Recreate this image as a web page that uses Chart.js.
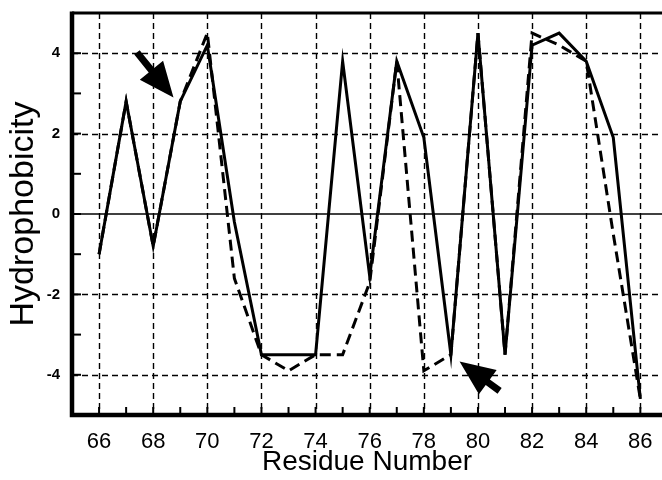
<!DOCTYPE html>
<html><head><meta charset="utf-8">
<script src="https://cdn.jsdelivr.net/npm/chart.js@4.4.1/dist/chart.umd.min.js"></script>
<style>html,body{margin:0;padding:0;background:#fff}#c{display:block}</style>
</head><body>
<canvas id="c" width="662" height="480"></canvas>
<script>
// ---- data ----
const residues      = [66,67,68,69,70,71,72,73,74,75,76,77,78,79,80,81,82,83,84,85,86];
const solidValues   = [-1.0,2.8,-0.8,2.8,4.2,-0.2,-3.5,-3.5,-3.5,3.8,-1.55,3.8,1.9,-3.5,4.5,-3.5,4.2,4.5,3.8,1.9,-4.6];
const dashedValues  = [-1.0,2.8,-0.8,2.8,4.5,-1.6,-3.5,-3.9,-3.5,-3.5,-1.7,3.8,-3.9,-3.5,4.5,-3.5,4.5,4.2,3.8,-0.5,-4.6];
const xTickValues   = [66,68,70,72,74,76,78,80,82,84,86];
const xMinorTicks   = [67,69,71,73,75,77,79,81,83,85];
const yTickValues   = [-4,-2,0,2,4];
const yMinorTicks   = [-3,-1,1,3];
const yGridValues   = [-4,-2,2,4];
const arrowTailX    = [67.4, 80.8];
const arrowTailY    = [4.02, -4.4];
const arrowTipX     = [68.75, 79.32];
const arrowTipY     = [2.9, -3.67];
const xTitle = 'Residue Number';
const yTitle = 'Hydrophobicity';

const FONT = "'Liberation Sans', Arial, Helvetica, sans-serif";

const decor = {
  id: 'decor',
  beforeDatasetsDraw(chart) {
    const {ctx, chartArea: a, scales: {x, y}} = chart;
    ctx.save();
    ctx.strokeStyle = '#000';
    ctx.lineWidth = 1.4;
    ctx.setLineDash([6, 4]);
    xTickValues.forEach(v => {
      const px = Math.round(x.getPixelForValue(v)) + 0.5;
      ctx.beginPath(); ctx.moveTo(px, a.top); ctx.lineTo(px, a.bottom); ctx.stroke();
    });
    yGridValues.forEach(v => {
      const py = Math.round(y.getPixelForValue(v)) + 0.5;
      ctx.beginPath(); ctx.moveTo(a.left, py); ctx.lineTo(a.right, py); ctx.stroke();
    });
    ctx.setLineDash([]);
    ctx.lineWidth = 1.5;
    const p0 = y.getPixelForValue(0);
    ctx.beginPath(); ctx.moveTo(a.left, p0); ctx.lineTo(a.right, p0); ctx.stroke();
    ctx.restore();
  },
  afterDatasetsDraw(chart) {
    const {ctx, chartArea: a, scales: {x, y}} = chart;
    ctx.save();
    ctx.strokeStyle = '#000';
    ctx.fillStyle = '#000';
    ctx.setLineDash([]);
    // inward ticks
    ctx.lineWidth = 2;
    xTickValues.concat(xMinorTicks).forEach(v => {
      const px = x.getPixelForValue(v);
      ctx.beginPath(); ctx.moveTo(px, a.bottom); ctx.lineTo(px, a.bottom - 8); ctx.stroke();
    });
    yTickValues.concat(yMinorTicks).forEach(v => {
      const py = y.getPixelForValue(v);
      ctx.beginPath(); ctx.moveTo(a.left, py); ctx.lineTo(a.left + 9, py); ctx.stroke();
    });
    // frame
    ctx.lineWidth = 3;
    ctx.beginPath(); ctx.moveTo(a.left, a.top); ctx.lineTo(a.right + 2, a.top); ctx.stroke();
    ctx.lineWidth = 4.5;
    ctx.beginPath();
    ctx.moveTo(a.left, a.top - 1.5);
    ctx.lineTo(a.left, a.bottom); ctx.lineTo(a.right + 2, a.bottom);
    ctx.stroke();
    // arrows
    for (let i = 0; i < arrowTipX.length; i++) {
      const tx = x.getPixelForValue(arrowTipX[i]), ty = y.getPixelForValue(arrowTipY[i]);
      const sx = x.getPixelForValue(arrowTailX[i]), sy = y.getPixelForValue(arrowTailY[i]);
      const len = Math.hypot(tx - sx, ty - sy);
      const ux = (tx - sx) / len, uy = (ty - sy) / len;
      const nx = -uy, ny = ux;
      const L = 35, W = 15, S = 3.5;
      const bx = tx - ux * L, by = ty - uy * L;
      ctx.beginPath();
      ctx.moveTo(sx + nx * S, sy + ny * S);
      ctx.lineTo(bx + nx * S, by + ny * S);
      ctx.lineTo(bx + nx * W, by + ny * W);
      ctx.lineTo(tx, ty);
      ctx.lineTo(bx - nx * W, by - ny * W);
      ctx.lineTo(bx - nx * S, by - ny * S);
      ctx.lineTo(sx - nx * S, sy - ny * S);
      ctx.closePath();
      ctx.fill();
    }
    ctx.restore();
  }
};

new Chart(document.getElementById('c'), {
  type: 'line',
  data: {
    datasets: [
      { label: 'solid', data: residues.map((r, i) => ({x: r, y: solidValues[i]})),
        borderColor: '#000', borderWidth: 3, pointRadius: 0, tension: 0, fill: false, order: 0 },
      { label: 'dashed', data: residues.map((r, i) => ({x: r, y: dashedValues[i]})),
        borderColor: '#000', borderWidth: 3, borderDash: [11, 6], pointRadius: 0, tension: 0, fill: false, order: 1 }
    ]
  },
  options: {
    responsive: false,
    animation: false,
    layout: { padding: { top: 13, right: 0, left: 0, bottom: 0 } },
    plugins: { legend: { display: false }, tooltip: { enabled: false } },
    scales: {
      x: {
        type: 'linear', min: 65, max: 86.8,
        afterBuildTicks: s => { s.ticks = xTickValues.map(v => ({value: v})); },
        afterFit: s => { s.height = 65; s.paddingLeft = 0; s.paddingRight = 0; },
        grid: { display: false, drawTicks: false },
        border: { display: false },
        ticks: { color: '#000', font: { family: FONT, size: 22 }, padding: 14, maxRotation: 0,
                 callback: v => String(v) },
        title: { display: true, text: xTitle, color: '#000', font: { family: FONT, size: 28 },
                 padding: { top: 0, bottom: 1 } }
      },
      y: {
        type: 'linear', min: -5, max: 5,
        afterBuildTicks: s => { s.ticks = yTickValues.map(v => ({value: v})); },
        afterFit: s => { s.width = 72; s.paddingTop = 0; s.paddingBottom = 0; },
        grid: { display: false, drawTicks: false },
        border: { display: false },
        ticks: { color: '#000', font: { family: FONT, size: 15, weight: 'bold' }, padding: 12,
                 callback: v => String(v) },
        title: { display: true, text: yTitle, color: '#000', font: { family: FONT, size: 34 },
                 padding: { top: 3, bottom: 0 } }
      }
    }
  },
  plugins: [decor]
});
</script>
</body></html>
